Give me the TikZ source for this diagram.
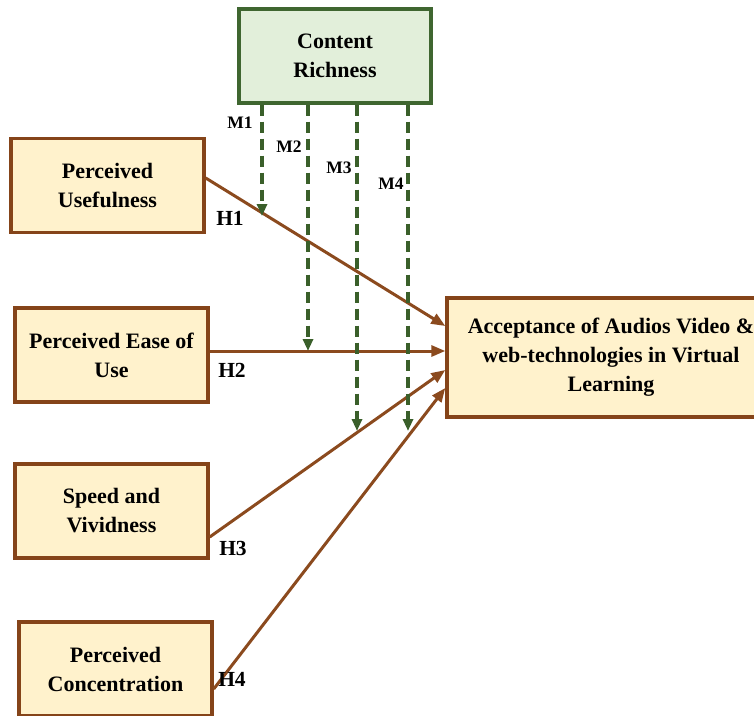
\documentclass[tikz,border=0pt]{standalone}
\usepackage{fontspec}
\setmainfont{Liberation Serif}
\usetikzlibrary{arrows.meta,calc}
\definecolor{boxfill}{HTML}{FFF2CC}
\definecolor{boxline}{HTML}{854419}
\definecolor{arrowbrown}{HTML}{8B4A1E}
\definecolor{crfill}{HTML}{E2EFDA}
\definecolor{crline}{HTML}{3F6630}
\definecolor{dashgreen}{HTML}{3A5F2A}
\tikzset{
  varbox/.style={draw=boxline, fill=boxfill, line width=3.4pt, inner sep=0pt,
    align=center, font=\fontsize{22}{29}\selectfont\bfseries},
  crbox/.style={draw=crline, fill=crfill, line width=3.4pt, inner sep=0pt,
    align=center, font=\fontsize{22}{29}\selectfont\bfseries},
  harrow/.style={draw=arrowbrown, line width=3pt, -{Triangle[length=14pt,width=11pt]}},
  marrow/.style={draw=dashgreen, line width=3.2pt, dash pattern=on 11pt off 6pt,
    -{Triangle[length=12pt,width=10pt]}},
  hlabel/.style={font=\fontsize{21.5}{24}\selectfont\bfseries, inner sep=0pt},
  mlabel/.style={font=\fontsize{17.5}{20}\selectfont\bfseries, inner sep=0pt}
}
\begin{document}
\begin{tikzpicture}[x=1pt,y=-1pt]
\useasboundingbox (0,0) rectangle (754,715);
% nodes
\node[crbox, minimum width=192pt, minimum height=94pt] (CR) at (335,56) {Content\\Richness};
\node[varbox, minimum width=193pt, minimum height=94pt] (PU) at (107.5,185.5) {Perceived\\Usefulness};
\node[varbox, minimum width=193pt, minimum height=94pt] (PEU) at (111.5,355) {Perceived Ease of\\Use};
\node[varbox, minimum width=193pt, minimum height=94pt] (SV) at (111.5,511) {Speed and\\Vividness};
\node[varbox, minimum width=193pt, minimum height=94pt] (PC) at (115.5,669) {Perceived\\Concentration};
\node[varbox, minimum width=328pt, minimum height=119pt] (ACC) at (611,357.5) {Acceptance of Audios Video \&\\web-technologies in Virtual\\Learning};
% hypothesis arrows
\draw[harrow] ($(PU.east)+(0,-7.5)$) -- ($(ACC.west)+(0,-31.5)$);
\draw[harrow] ($(PEU.east)+(0,-4)$) -- ($(ACC.west)+(0,-6.5)$);
\draw[harrow] ($(SV.east)+(0,26)$) -- ($(ACC.west)+(0,12.5)$);
\draw[harrow] ($(PC.east)+(0,20)$) -- ($(ACC.west)+(0,30.5)$);
% moderator ends
\coordinate (m1) at (262,216);
\coordinate (m2) at (308,351);
\coordinate (m3) at (357,431);
\coordinate (m4) at (408,431);
\draw[marrow] (CR.south -| m1) -- (m1);
\draw[marrow] (CR.south -| m2) -- (m2);
\draw[marrow] (CR.south -| m3) -- (m3);
\draw[marrow] (CR.south -| m4) -- (m4);
% labels
\node[mlabel] (LM1) at (240,123) {M1};
\node[mlabel] (LM2) at (289,147) {M2};
\node[mlabel] (LM3) at (339,168) {M3};
\node[mlabel] (LM4) at (391,184) {M4};
\node[hlabel] (LH1) at (230,218) {H1};
\node[hlabel] (LH2) at (232,370) {H2};
\node[hlabel] (LH3) at (233,548) {H3};
\node[hlabel] (LH4) at (232,679) {H4};
\end{tikzpicture}
\end{document}
